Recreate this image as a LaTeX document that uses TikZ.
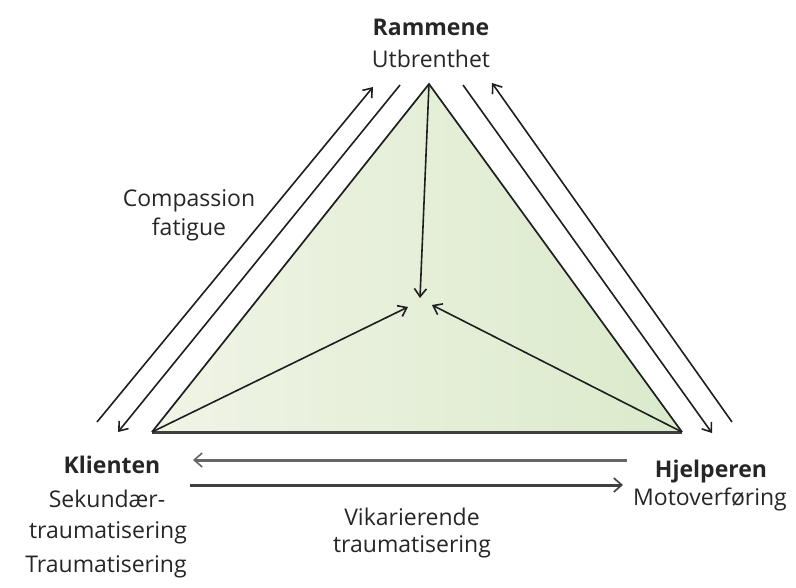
\documentclass[tikz,border=0pt]{standalone}
\usepackage{fontspec}
\setmainfont{Open Sans}
\usetikzlibrary{arrows.meta}
\definecolor{txt}{HTML}{262626}
\definecolor{ln}{HTML}{1E1E1E}
\definecolor{fillL}{HTML}{F0F4E6}
\definecolor{fillR}{HTML}{DAEACB}
\begin{document}
\begin{tikzpicture}[x=1pt,y=-1pt,
  lbl/.style={font=\fontsize{23}{28}\selectfont, text=txt, anchor=base, inner sep=0pt},
  bl/.style={lbl, font=\fontsize{23}{28}\selectfont\bfseries},
  edge/.style={draw=ln, line width=1.7pt},
  arr/.style={draw=ln, line width=1.6pt, -{Straight Barb[length=8pt,width=12pt,line width=1.6pt]}},
  harr/.style={draw=#1, line width=3pt, -{Straight Barb[length=8pt,width=14pt,line width=1.6pt]}}
]
\useasboundingbox (0,0) rectangle (796,587);
% corners
\coordinate (A) at (429,84);
\coordinate (L) at (152,432);
\coordinate (R) at (682,432);
% centre meeting points
\coordinate (cv) at (420,298);
\coordinate (cl) at (408,307);
\coordinate (cr) at (432,305);
% parallel arrows ends
\coordinate (l1s) at (97,422);  \coordinate (l1e) at (373,87);
\coordinate (l2s) at (400,85);  \coordinate (l2e) at (118,432);
\coordinate (r2s) at (463,85);  \coordinate (r2e) at (712,433);
\coordinate (r3s) at (732,422); \coordinate (r3e) at (492,83);
\coordinate (b1s) at (627,460); \coordinate (b1e) at (193,460);
\coordinate (b2s) at (190,485); \coordinate (b2e) at (623,485);

% triangle
\shade[left color=fillL, right color=fillR] (L) -- (A) -- (R) -- cycle;
\draw[edge] (L) -- (A) -- (R);
\draw[draw=black!75, line width=3pt] (L) -- (R);

% inner arrows
\draw[arr] (A) -- (cv);
\draw[arr] (L) -- (cl);
\draw[arr] (R) -- (cr);

% side arrows
\draw[arr] (l1s) -- (l1e);
\draw[arr] (l2s) -- (l2e);
\draw[arr] (r2s) -- (r2e);
\draw[arr] (r3s) -- (r3e);

% bottom arrows
\draw[harr=black!60] (b1s) -- (b1e);
\draw[harr=black!75] (b2s) -- (b2e);

% labels
\node[bl] (ram) at (431,35) {Rammene};
\node[lbl] (utb) at (431,67) {Utbrenthet};
\node[lbl] (comp) at (189,206) {Compassion};
\node[lbl] (fat) at (189,235) {fatigue};
\node[bl] (kli) at (112,473) {Klienten};
\node[lbl] (sek) at (107,507) {Sekundær-};
\node[lbl] (tr1) at (108,538) {traumatisering};
\node[lbl] (tr2) at (106,572) {Traumatisering};
\node[lbl] (vik) at (412,525) {Vikarierende};
\node[lbl] (tr3) at (412,552) {traumatisering};
\node[bl] (hje) at (711,477) {Hjelperen};
\node[lbl] (mot) at (710,505) {Motoverføring};
\end{tikzpicture}
\end{document}
